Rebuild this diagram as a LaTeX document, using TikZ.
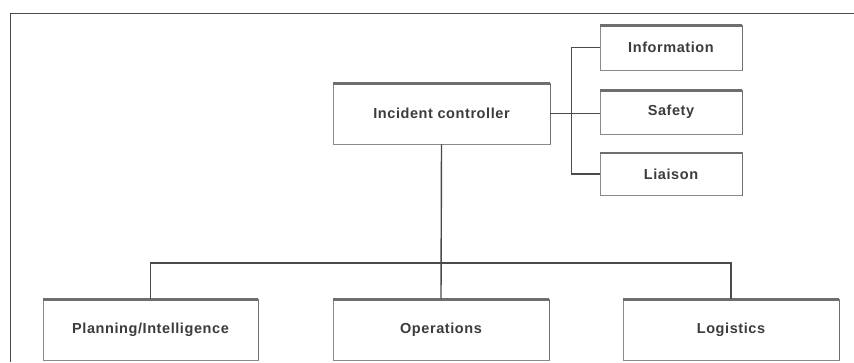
\documentclass[tikz,border=0pt]{standalone}
\usepackage{fontspec}
\newfontfamily\labfont[LetterSpace=4]{Liberation Sans}
\definecolor{txt}{HTML}{3C3C3C}
\definecolor{edge}{HTML}{8A8A8A}
\definecolor{shade}{HTML}{6E6E6E}
\definecolor{wire}{HTML}{4A4A4A}
\tikzset{
  box/.style={draw=edge, line width=0.8pt, fill=white, rectangle, inner sep=0pt,
    font=\labfont\bfseries\fontsize{14.5}{16}\selectfont, text=txt},
  wire/.style={draw=wire, line width=1.4pt},
  frame/.style={draw=wire, line width=1pt},
  topedge/.style={draw=shade, line width=2.4pt},
  sideedge/.style={draw=shade, line width=1.6pt}
}
\begin{document}
\begin{tikzpicture}[x=1pt,y=-1pt]
\useasboundingbox (0,0) rectangle (854,362);
\fill[white] (0,0) rectangle (854,362);
\draw[frame] (10,362) -- (10,13) -- (854,13);

\node[box, minimum width=217pt, minimum height=61pt] (ic) at (441.5,113.5) {Incident controller};
\node[box, minimum width=142pt, minimum height=45pt] (info) at (671,47.5) {Information};
\node[box, minimum width=142pt, minimum height=44pt] (safe) at (671,112) {Safety};
\node[box, minimum width=142pt, minimum height=43pt] (liai) at (671,174) {Liaison};
\node[box, minimum width=215pt, minimum height=61pt] (plan) at (150.5,329.5) {Planning/Intelligence};
\node[box, minimum width=216pt, minimum height=61pt] (ops) at (441,329.5) {Operations};
\node[box, minimum width=216pt, minimum height=61pt] (logi) at (731,329.5) {Logistics};

\foreach \n in {ic,info,safe,liai,plan,ops,logi}{
  \draw[topedge] ([yshift=-1pt]\n.north west) -- ([yshift=-1pt]\n.north east);
  \draw[sideedge] ([yshift=-1pt]\n.north east) -- (\n.south east);
}

\draw[wire] (ic.east) -- (ic.east -| safe.west);
\draw[wire] (info.west) -- ++(-28,0) coordinate (bt) |- (liai.west);
\draw[wire] (ic.south) -- (ops.north);
\draw[wire] (plan.north) -- ++(0,-35.5) coordinate (bl) -| (logi.north);
\end{tikzpicture}
\end{document}
